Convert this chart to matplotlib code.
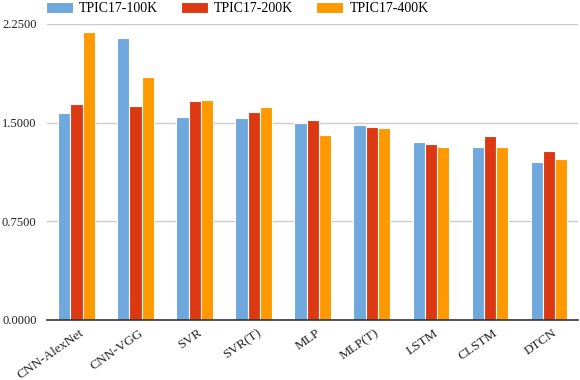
import matplotlib
matplotlib.use("Agg")
import matplotlib.pyplot as plt
import matplotlib.transforms as mtransforms
import numpy as np

categories = ["CNN-AlexNet", "CNN-VGG", "SVR", "SVR(T)", "MLP", "MLP(T)", "LSTM", "CLSTM", "DTCN"]
series_names = ["TPIC17-100K", "TPIC17-200K", "TPIC17-400K"]
v100k = [1.576, 2.144, 1.545, 1.538, 1.500, 1.485, 1.356, 1.311, 1.197]
v200k = [1.644, 1.629, 1.667, 1.583, 1.523, 1.470, 1.341, 1.402, 1.288]
v400k = [2.190, 1.848, 1.674, 1.621, 1.409, 1.462, 1.318, 1.311, 1.220]
yticks = [0.0, 0.75, 1.5, 2.25]
colors = ["#6FA8DC", "#DC3912", "#FF9900"]

plt.rcParams['font.family'] = ['Liberation Serif', 'DejaVu Serif']

fig = plt.figure(figsize=(5.8, 3.8), dpi=100)
ax = fig.add_axes([0.081, 0.158, 0.916, 0.779])

x = np.arange(len(categories))
w = 0.205
for i, (vals, name, c) in enumerate(zip([v100k, v200k, v400k], series_names, colors)):
    ax.bar(x + (i - 1) * w, vals, width=w, color=c, edgecolor="white", linewidth=0.8, label=name, zorder=3)

ax.set_xlim(-0.5, len(categories) - 0.5)
ax.set_ylim(0, 2.25)
ax.set_yticks(yticks)
ax.set_yticklabels([f"{t:.4f}" for t in yticks], fontsize=9, color="#222222")
ax.set_xticks(x)
ax.set_xticklabels(categories, rotation=35, ha="right", rotation_mode="anchor", fontsize=9.6, color="#222222")
ax.tick_params(axis="y", length=0, pad=7.5)
ax.tick_params(axis="x", length=0, pad=5)
offset = mtransforms.ScaledTranslation(3 / 100, 0, fig.dpi_scale_trans)
for lbl in ax.get_xticklabels():
    lbl.set_transform(lbl.get_transform() + offset)
ax.yaxis.grid(True, color="#CCCCCC", linewidth=1, zorder=0)
for s in ["top", "right", "left"]:
    ax.spines[s].set_visible(False)
ax.spines["bottom"].set_color("#333333")
ax.spines["bottom"].set_linewidth(1.2)
ax.spines["bottom"].set_zorder(4)

handles, labels = ax.get_legend_handles_labels()
fig.legend(handles, labels, loc="upper left", bbox_to_anchor=(0.058, 1.028), ncol=3, frameon=False,
           fontsize=10, handlelength=1.95, handleheight=0.9, handletextpad=0.43, columnspacing=1.65)

fig.savefig("out.png", dpi=100)
